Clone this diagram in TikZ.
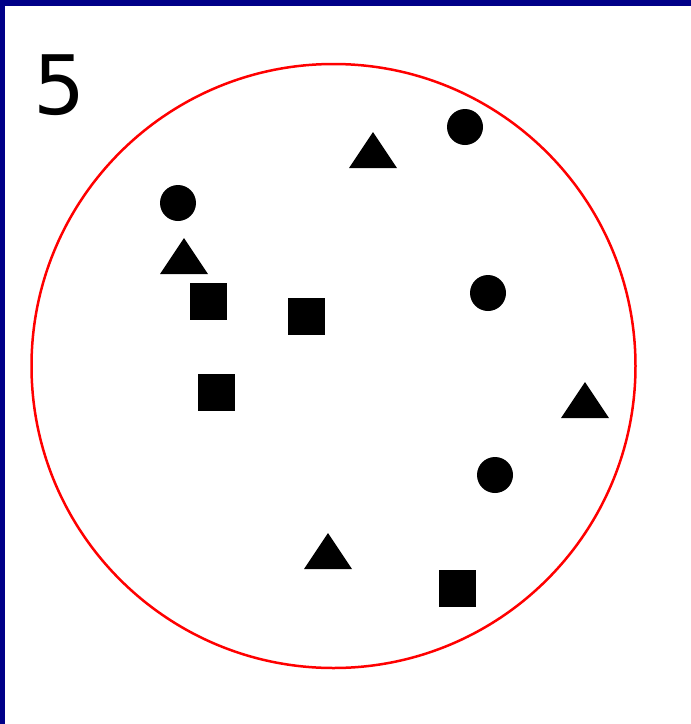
\documentclass[tikz,border=0pt]{standalone}
\usepackage{fontspec}
\setmainfont{DejaVu Sans}
\definecolor{framenavy}{RGB}{0,0,136}
\begin{document}
\begin{tikzpicture}[x=1pt, y=-1pt]
\useasboundingbox (0,0) rectangle (691,724);
\fill[white] (0,0) rectangle (691,724);
% frame edges
\fill[framenavy] (0,0) rectangle (691,6);
\fill[framenavy] (0,0) rectangle (5,724);
% count label
\node[anchor=base west, inner sep=0pt, font=\fontsize{82}{82}\selectfont] (count) at (33,114) {5};
% enclosing circle
\draw[red, line width=2.5pt] (333.5,366) circle[radius=302];
% dots
\foreach \x/\y in {465/127, 178/203, 488/293, 495/475}
  \fill (\x,\y) circle[radius=18];
% triangles
\foreach \x/\y in {373/150, 184/256, 585/400, 328/551}
  \fill (\x-24,\y+18) -- (\x+24,\y+18) -- (\x,\y-18) -- cycle;
% squares
\foreach \x/\y in {208.5/301.5, 306.5/316.5, 216.5/392.5, 457.5/588.5}
  \fill (\x-18.5,\y-18.5) rectangle (\x+18.5,\y+18.5);
\end{tikzpicture}
\end{document}
